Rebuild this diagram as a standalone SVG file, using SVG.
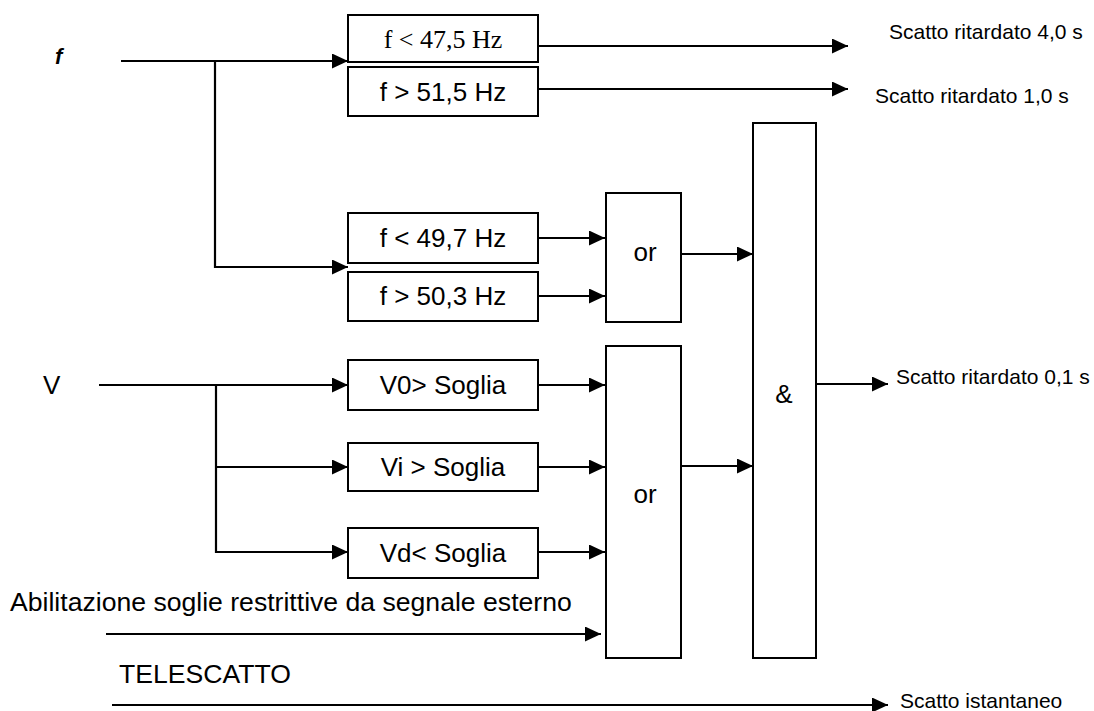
<svg xmlns="http://www.w3.org/2000/svg" width="1094" height="711" viewBox="0 0 1094 711">
<style>
.box{fill:#fff;stroke:#000;stroke-width:2}
.ln{fill:none;stroke:#000;stroke-width:2.2}
.arr{marker-end:url(#ah)}
.t{font-family:"Liberation Sans",Arial,sans-serif;font-size:26px;fill:#000}
.tl{font-family:"Liberation Sans",Arial,sans-serif;font-size:26.6px;fill:#000}
.ts{font-family:"Liberation Serif","Times New Roman",serif;font-size:26px;fill:#000}
.r{font-family:"Liberation Sans",Arial,sans-serif;font-size:21px;fill:#000}
.c{text-anchor:middle}
</style>
<defs>
<marker id="ah" markerUnits="userSpaceOnUse" markerWidth="16" markerHeight="15" refX="16" refY="7.5" orient="auto">
<path d="M0,0 L16,7.5 L0,15 z" fill="#000"/>
</marker>
</defs>
<rect width="1094" height="711" fill="#fff"/>

<g id="connectors">
<path class="ln arr" d="M121,61 H348"/>
<path class="ln arr" d="M215,61 V267 H348"/>
<path class="ln arr" d="M538,46 H848"/>
<path class="ln arr" d="M538,89 H848"/>
<path class="ln arr" d="M538,238 H605"/>
<path class="ln arr" d="M538,296 H605"/>
<path class="ln arr" d="M681,254 H753"/>
<path class="ln arr" d="M99,385 H348"/>
<path class="ln arr" d="M216,385 V552 H348"/>
<path class="ln arr" d="M216,467 H348"/>
<path class="ln arr" d="M538,385 H605"/>
<path class="ln arr" d="M538,467 H605"/>
<path class="ln arr" d="M538,552 H605"/>
<path class="ln arr" d="M106,634 H601"/>
<path class="ln arr" d="M681,466 H753"/>
<path class="ln arr" d="M814,384 H888"/>
<path class="ln arr" d="M112,705 H888"/>
</g>

<g id="label-f"><text x="55" y="64" font-family="Liberation Sans,Arial,sans-serif" font-size="22" font-weight="bold" font-style="italic">f</text></g>
<g id="label-V"><text class="t" x="43" y="394">V</text></g>
<g id="label-abilitazione"><text class="tl" x="10" y="611">Abilitazione soglie restrittive da segnale esterno</text></g>
<g id="label-telescatto"><text class="tl" x="119" y="683">TELESCATTO</text></g>

<g id="box-f-lt-475"><rect class="box" x="348" y="15" width="190" height="47"/><text class="ts c" x="443" y="48">f &lt; 47,5 Hz</text></g>
<g id="box-f-gt-515"><rect class="box" x="348" y="67" width="190" height="49"/><text class="t c" x="443" y="101">f &gt; 51,5 Hz</text></g>
<g id="box-f-lt-497"><rect class="box" x="348" y="213" width="190" height="50"/><text class="t c" x="443" y="247">f &lt; 49,7 Hz</text></g>
<g id="box-f-gt-503"><rect class="box" x="348" y="272" width="190" height="49"/><text class="t c" x="443" y="305">f &gt; 50,3 Hz</text></g>
<g id="box-v0"><rect class="box" x="348" y="360" width="190" height="50"/><text class="t c" x="443" y="394">V0&gt; Soglia</text></g>
<g id="box-vi"><rect class="box" x="348" y="443" width="190" height="48"/><text class="t c" x="443" y="476">Vi &gt; Soglia</text></g>
<g id="box-vd"><rect class="box" x="348" y="528" width="190" height="50"/><text class="t c" x="443" y="562">Vd&lt; Soglia</text></g>

<g id="or-1"><rect class="box" x="606" y="193" width="75" height="129"/><text class="t c" x="645" y="261">or</text></g>
<g id="or-2"><rect class="box" x="606" y="346" width="75" height="312"/><text class="t c" x="645" y="503">or</text></g>
<g id="and"><rect class="box" x="753" y="123" width="63" height="535"/><text class="t c" x="784" y="403">&amp;</text></g>

<g id="out-40"><text class="r" x="889" y="39" font-size="20">Scatto ritardato 4,0 s</text></g>
<g id="out-10"><text class="r" x="875" y="103">Scatto ritardato 1,0 s</text></g>
<g id="out-01"><text class="r" x="896" y="384">Scatto ritardato 0,1 s</text></g>
<g id="out-ist"><text class="r" x="900" y="708">Scatto istantaneo</text></g>
</svg>
